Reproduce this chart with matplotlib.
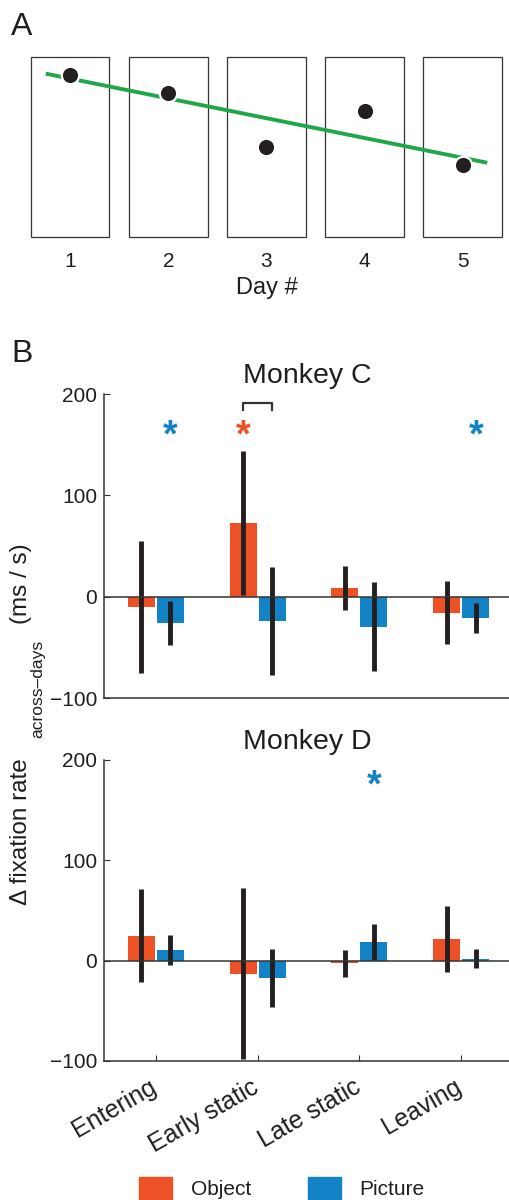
import numpy as np
import matplotlib
matplotlib.use("Agg")
import matplotlib.pyplot as plt
import matplotlib.transforms as mtransforms
from matplotlib.patches import Patch

plt.rcParams['font.family'] = ['Liberation Sans', 'DejaVu Sans']

# ---- data ----
days = [1, 2, 3, 4, 5]
day_values = [0.90, 0.80, 0.50, 0.70, 0.40]

phases = ["Entering", "Early static", "Late static", "Leaving"]

c_obj_mean = [-10, 73, 8.5, -16]
c_obj_err = [65, 71, 21.5, 31]
c_pic_mean = [-26, -24, -29.5, -21]
c_pic_err = [22, 53, 44, 15]

d_obj_mean = [25, -13, -2.7, 21.5]
d_obj_err = [46, 85, 13.5, 32.5]
d_pic_mean = [11, -17.5, 18.5, 1.7]
d_pic_err = [15, 29, 18, 9.5]

# significance stars: (phase index, series, y)
c_stars = [(0, "pic", 170), (1, "obj", 170), (3, "pic", 170)]
d_stars = [(2, "pic", 186)]

ORANGE = '#ef5126'
BLUE = '#1483c6'
GREEN = '#1fa84a'
DARK = '#231f20'
AX = '#333333'
TXT = '#1e1e1e'

W, H = 510, 1200
fig = plt.figure(figsize=(W / 100, H / 100), dpi=100)


def fx(px):
    return px / W


def fy(py):
    return 1 - py / H


# ---- panel A ----
axA = fig.add_axes([fx(31), fy(237), fx(471), 180 / H])
axA.bar(days, 1, width=0.8, bottom=0, fill=False, edgecolor=AX,
        linewidth=0.9, clip_on=False)
k, b = np.polyfit(days, day_values, 1)
xl = np.array([days[0] - 0.25, days[-1] + 0.25])
axA.plot(xl, k * xl + b, color=GREEN, lw=2.8, zorder=3, solid_capstyle='butt')
axA.plot(days, day_values, 'o', color=DARK, ms=12.5, mec='white', mew=1.6,
         zorder=4)
axA.set_xlim(0.6, 5.4)
axA.set_ylim(0, 1)
for s in axA.spines.values():
    s.set_visible(False)
axA.set_yticks([])
axA.set_xticks(days)
axA.tick_params(axis='x', length=0, pad=11, labelsize=15, colors=TXT)
axA.set_xlabel("Day #", fontsize=17, labelpad=4, color=TXT)

fig.text(fx(22), fy(27), "A", fontsize=23, ha='center', va='center', color=TXT)
fig.text(fx(22), fy(354), "B", fontsize=23, ha='center', va='center', color=TXT)

# ---- panels B ----
x = np.arange(1, len(phases) + 1)
bw = 0.265
off = 0.143


def panel(ax, om, oe, pm, pe, title, stars, bottom_labels):
    ax.bar(x - off, om, width=bw, color=ORANGE, zorder=2)
    ax.bar(x + off, pm, width=bw, color=BLUE, zorder=2)
    ax.errorbar(x - off, om, yerr=oe, fmt='none', ecolor=DARK,
                elinewidth=3.5, capsize=0, zorder=3)
    ax.errorbar(x + off, pm, yerr=pe, fmt='none', ecolor=DARK,
                elinewidth=3.5, capsize=0, zorder=3)
    ax.axhline(0, color=AX, lw=1.1, zorder=4)
    for i, ser, yv in stars:
        xs = x[i] - off if ser == "obj" else x[i] + off
        col = ORANGE if ser == "obj" else BLUE
        ax.annotate('*', (xs, yv), xytext=(0, -16), textcoords='offset points',
                    ha='center', va='baseline', fontsize=27, color=col,
                    fontweight='bold')
    ax.set_xlim(0.49, 4.48)
    ax.set_ylim(-100, 200)
    ax.set_yticks([-100, 0, 100, 200])
    for s in ['top', 'right']:
        ax.spines[s].set_visible(False)
    for s in ['left', 'bottom']:
        ax.spines[s].set_color(AX)
        ax.spines[s].set_linewidth(1.1)
    ax.tick_params(axis='y', direction='in', length=4, pad=5, labelsize=15,
                   colors=AX, labelcolor=TXT)
    ax.set_title(title, fontsize=20.5, pad=8, color=TXT)
    ax.set_xticks(x)
    if bottom_labels:
        ax.set_xticklabels(phases, rotation=30, ha='right',
                           rotation_mode='anchor', fontsize=18, color=TXT)
        ax.tick_params(axis='x', direction='in', length=4, pad=10,
                       colors=AX, labelcolor=TXT)
        shift = mtransforms.ScaledTranslation(-7 / 100, 0, fig.dpi_scale_trans)
        for lab in ax.get_xticklabels():
            lab.set_transform(lab.get_transform() + shift)
    else:
        ax.tick_params(axis='x', length=0, labelbottom=False)


axC = fig.add_axes([fx(104), fy(698), fx(406), 304 / H])
panel(axC, c_obj_mean, c_obj_err, c_pic_mean, c_pic_err, "Monkey C",
      c_stars, False)
# bracket linking Object and Picture in Early static
axC.plot([x[1] - off, x[1] - off, x[1] + off, x[1] + off],
         [184, 191, 191, 184], color=AX, lw=1.6)

axD = fig.add_axes([fx(104), fy(1061), fx(406), 301 / H])
panel(axD, d_obj_mean, d_obj_err, d_pic_mean, d_pic_err, "Monkey D",
      d_stars, True)

# ---- shared y label ----
fig.text(fx(27), fy(905), "\u0394 fixation rate", rotation=90,
         rotation_mode='anchor', ha='left', va='baseline', fontsize=17.5,
         color=TXT)
fig.text(fx(42), fy(738), "across\u2013days", rotation=90,
         rotation_mode='anchor', ha='left', va='baseline', fontsize=12.5,
         color=TXT)
fig.text(fx(27), fy(624), "(ms / s)", rotation=90,
         rotation_mode='anchor', ha='left', va='baseline', fontsize=17.5,
         color=TXT)

# ---- legend ----
handles = [Patch(color=ORANGE, label="Object"), Patch(color=BLUE, label="Picture")]
fig.legend(handles=handles, ncol=2, loc='upper left',
           bbox_to_anchor=(fx(139), fy(1177)), frameon=False, fontsize=15,
           handlelength=1.6, handleheight=1.3, handletextpad=0.9,
           columnspacing=2.7, borderpad=0, borderaxespad=0,
           labelcolor=TXT)

fig.savefig("out.png", dpi=100)
